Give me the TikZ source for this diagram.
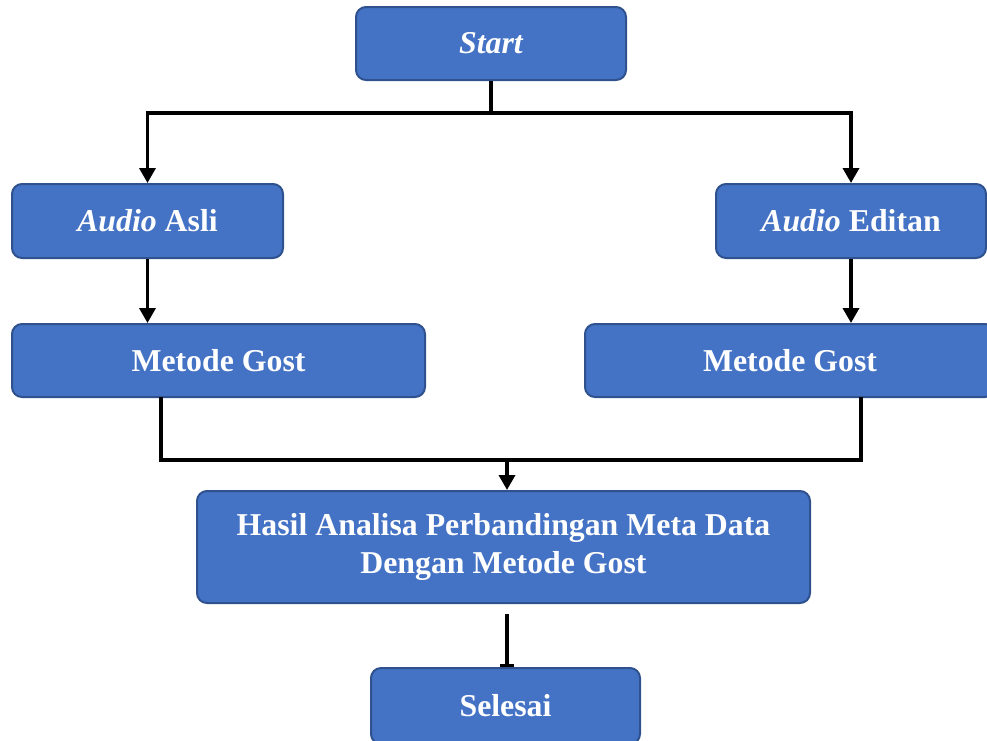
\documentclass[tikz,border=0pt]{standalone}
\usepackage{fontspec}
\setmainfont{Liberation Serif}
\usetikzlibrary{arrows.meta}
\definecolor{boxfill}{HTML}{4472C4}
\definecolor{boxdraw}{HTML}{2F528F}
\begin{document}
\begin{tikzpicture}[x=1pt,y=-1pt,
  stepbox/.style={draw=boxdraw,line width=2pt,fill=boxfill,rounded corners=10pt,
    text=white,font=\fontsize{31.8}{38}\selectfont\bfseries,align=center,inner sep=0pt},
  conn/.style={line width=3.5pt,draw=black},
  arr/.style={conn,-{Triangle[width=16pt,length=15pt]}}]
\useasboundingbox (0,0) rectangle (987,740);
\clip (0,0) rectangle (987,740);
\node[stepbox,minimum width=270pt,minimum height=73pt] (start) at (491,43.5) {\itshape Start};
\node[stepbox,minimum width=271pt,minimum height=74pt] (asli) at (147.5,221) {\textit{Audio} Asli};
\node[stepbox,minimum width=270pt,minimum height=74pt] (edit) at (851,221) {\textit{Audio} Editan};
\node[stepbox,minimum width=413pt,minimum height=73pt] (g1) at (218.5,360.5) {Metode Gost};
\node[stepbox,minimum width=410pt,minimum height=73pt] (g2) at (790,360.5) {Metode Gost};
\node[stepbox,minimum width=613pt,minimum height=112pt] (hasil) at (503.5,547) {Hasil Analisa Perbandingan Meta Data\\Dengan Metode Gost};
\node[stepbox,minimum width=269pt,minimum height=76pt] (sel) at (505.5,706) {Selesai};
\coordinate (j1) at (491,113);
\coordinate (j2) at (507,460);
\coordinate (h0) at (507,614);
\draw[conn] (start.south) -- (j1);
\draw[arr] (j1) -| (asli.north);
\draw[arr] (j1) -| (edit.north);
\draw[arr] (asli.south) -- (g1.north -| asli.south);
\draw[arr] (edit.south) -- (g2.north -| edit.south);
\draw[conn] (161,397) |- (j2);
\draw[conn] (861,397) |- (j2);
\draw[arr] (j2) -- (hasil.north -| j2);
\draw[conn,-{Bar[width=14pt,line width=3pt]}] (h0) -- (sel.north -| h0);
\end{tikzpicture}
\end{document}
